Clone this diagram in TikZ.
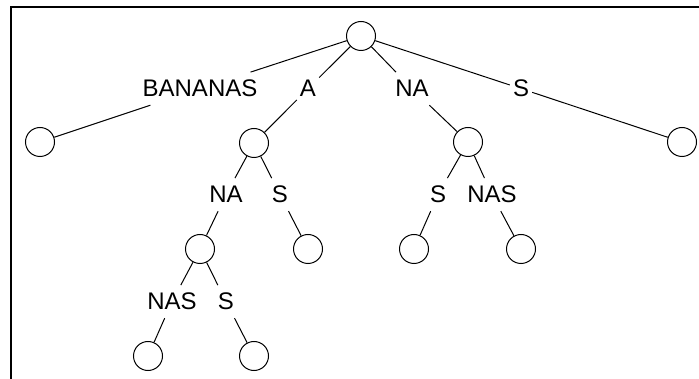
\documentclass[tikz,border=0pt]{standalone}
\usepackage{fontspec}
\setmainfont{Liberation Sans}
\begin{document}
\begin{tikzpicture}[x=1pt,y=-1pt,
  vtx/.style={circle,draw,line width=1pt,minimum size=29pt,inner sep=0pt},
  lbl/.style={inner xsep=3pt,inner ysep=3pt,text height=21.7pt,text depth=5pt,anchor=base,font=\fontsize{24}{28}\selectfont},
  edge/.style={line width=1pt}]
\useasboundingbox (0,0) rectangle (699,379);
\draw[line width=2pt] (11,379) -- (11,7) -- (699,7);
% vertices
\node[vtx] (r) at (361,36) {};
\node[vtx] (a1) at (40,142) {};
\node[vtx] (a2) at (254,143) {};
\node[vtx] (a3) at (468,142) {};
\node[vtx] (a4) at (682,142) {};
\node[vtx] (b1) at (200,249) {};
\node[vtx] (b2) at (308,249) {};
\node[vtx] (b3) at (414,249) {};
\node[vtx] (b4) at (521,249) {};
\node[vtx] (c1) at (148,356) {};
\node[vtx] (c2) at (254,356) {};
% labels
\node[lbl] (l1) at (200,97) {BANANAS};
\node[lbl] (l2) at (308,97) {A};
\node[lbl] (l3) at (412,97) {NA};
\node[lbl] (l4) at (521,97) {S};
\node[lbl] (m1) at (226,203) {NA};
\node[lbl] (m2) at (280,203) {S};
\node[lbl] (m3) at (438,203) {S};
\node[lbl] (m4) at (492,203) {NAS};
\node[lbl] (n1) at (172,310) {NAS};
\node[lbl] (n2) at (226,310) {S};
% edges
\draw[edge] (r) -- (l1); \draw[edge] (l1) -- (a1);
\draw[edge] (r) -- (l2); \draw[edge] (l2) -- (a2);
\draw[edge] (r) -- (l3); \draw[edge] (l3) -- (a3);
\draw[edge] (r) -- (l4); \draw[edge] (l4) -- (a4);
\draw[edge] (a2) -- (m1); \draw[edge] (m1) -- (b1);
\draw[edge] (a2) -- (m2); \draw[edge] (m2) -- (b2);
\draw[edge] (a3) -- (m3); \draw[edge] (m3) -- (b3);
\draw[edge] (a3) -- (m4); \draw[edge] (m4) -- (b4);
\draw[edge] (b1) -- (n1); \draw[edge] (n1) -- (c1);
\draw[edge] (b1) -- (n2); \draw[edge] (n2) -- (c2);
\end{tikzpicture}
\end{document}
